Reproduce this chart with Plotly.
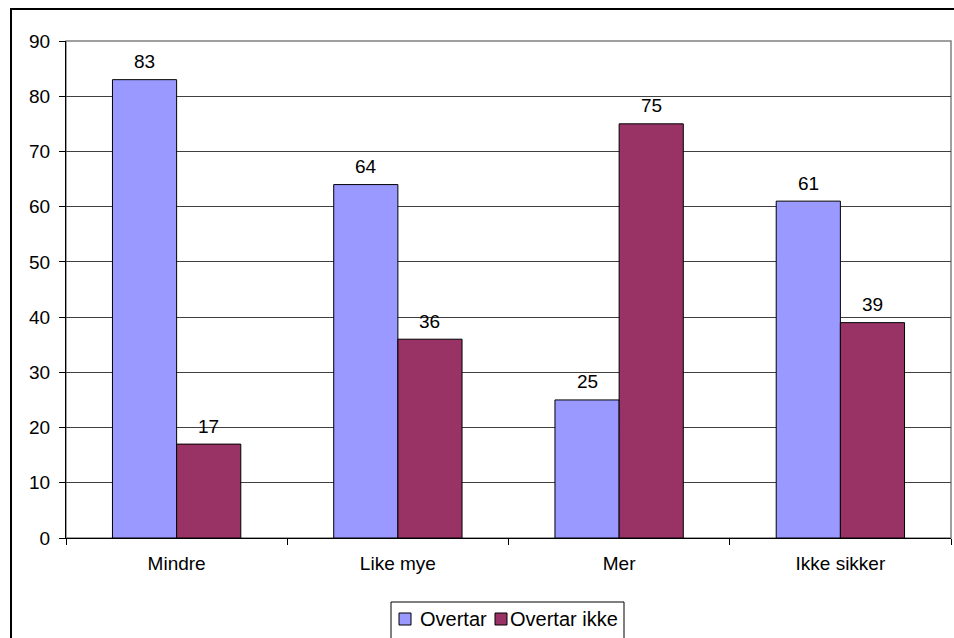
import plotly.graph_objects as go

categories = ["Mindre", "Like mye", "Mer", "Ikke sikker"]
overtar = [83, 64, 25, 61]
overtar_ikke = [17, 36, 75, 39]
series_names = ["Overtar", "Overtar ikke"]
series_colors = ["#9999FF", "#993366"]
y_ticks = [0, 10, 20, 30, 40, 50, 60, 70, 80, 90]

FONT = "Liberation Sans, Arial, sans-serif"
FS = 19

OFF = 0  # body margin removed via post_script
W, H = 954 - OFF, 638 - OFF
# desired plot area in page pixels: x 66..951, y 41..538
L = 66 - OFF
T = 41 - OFF
R = W - (951 - OFF)
B = H - (538 - OFF)
pw = W - L - R
ph = H - T - B


def px_x(x):
    return (x - OFF - L) / pw


def px_y(y):
    return (H - B - (y - OFF)) / ph


fig = go.Figure()
series = [overtar, overtar_ikke]
for name, vals, col in zip(series_names, series, series_colors):
    fig.add_trace(go.Bar(
        x=categories, y=vals, name=name, showlegend=False,
        marker=dict(color=col, line=dict(color="black", width=1)),
    ))

# data labels above bars
bar_shift = [-32, 32]
annotations = []
for vals, sh in zip(series, bar_shift):
    for c, v in zip(categories, vals):
        annotations.append(dict(
            x=c, y=v, xref="x", yref="y", text=str(v), showarrow=False,
            xshift=sh, yshift=18, yanchor="middle", xanchor="center",
            font=dict(family=FONT, size=FS, color="black"),
        ))

shapes = [
    # outer chart border
    dict(type="rect", xref="paper", yref="paper",
         x0=px_x(11), x1=px_x(975), y0=px_y(9), y1=px_y(660),
         line=dict(color="black", width=2), layer="below"),
    # plot area border (top/right)
    dict(type="rect", xref="paper", yref="paper",
         x0=0, x1=1, y0=0, y1=1,
         line=dict(color="#808080", width=1.5), layer="below"),
    # legend box
    dict(type="rect", xref="paper", yref="paper",
         x0=px_x(391), x1=px_x(624), y0=px_y(602), y1=px_y(660),
         line=dict(color="black", width=1)),
]

# manual legend (keys + labels)
legend_key_x = [399, 495]
legend_text_x = [418, 508]
for name, col, kx, tx in zip(series_names, series_colors, legend_key_x, legend_text_x):
    shapes.append(dict(type="rect", xref="paper", yref="paper",
                       x0=px_x(kx), x1=px_x(kx + 12), y0=px_y(613), y1=px_y(625),
                       fillcolor=col, line=dict(color="black", width=1)))
    annotations.append(dict(x=px_x(tx), y=px_y(619), xref="paper", yref="paper",
                            text=name, showarrow=False, xanchor="left",
                            yanchor="middle",
                            font=dict(family=FONT, size=20, color="black")))

fig.update_layout(
    width=W, height=H,
    margin=dict(l=L, r=R, t=T, b=B),
    paper_bgcolor="white", plot_bgcolor="white",
    barmode="group", bargap=0.42, bargroupgap=0,
    font=dict(family=FONT, size=FS, color="black"),
    showlegend=False,
    shapes=shapes,
    annotations=annotations,
)
fig.update_yaxes(
    range=[0, 90], tickvals=y_ticks,
    showgrid=True, gridcolor="#404040", gridwidth=1,
    showline=True, linecolor="black", linewidth=1,
    ticks="outside", ticklen=6, tickcolor="black",
    zeroline=False, ticklabelstandoff=5,
)
fig.update_xaxes(
    showline=True, linecolor="black", linewidth=1,
    ticks="outside", ticklen=6, tickcolor="black",
    tickson="boundaries", showgrid=False, ticklabelstandoff=8,
)

fig.write_html(
    "out.html",
    config={"displayModeBar": False},
    post_script="document.body.style.margin='0';document.body.style.overflow='hidden';",
)
